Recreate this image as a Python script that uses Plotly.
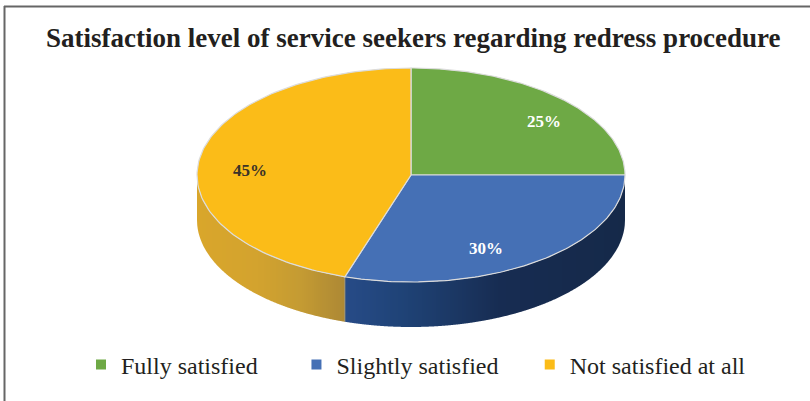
import numpy as np
import plotly.graph_objects as go

# Survey results
categories = ["Fully satisfied", "Slightly satisfied", "Not satisfied at all"]
shares = [25, 30, 45]
share_labels = ["25%", "30%", "45%"]
title_text = "Satisfaction level of service seekers regarding redress procedure"

# Styling
top_colors = ["#6EA945", "#4570B5", "#FBBC18"]
label_colors = ["#FFFFFF", "#FFFFFF", "#3A3328"]
wall_ramps = [
    [(0.0, "#4F7A33"), (1.0, "#4F7A33")],
    [(0.0, "#274B87"), (0.2, "#1F4377"), (0.4, "#1B3763"), (0.55, "#172C52"), (1.0, "#152949")],
    [(0.0, "#D9A62B"), (0.4, "#D3A32E"), (0.7, "#C49B33"), (1.0, "#AD8834")],
]
FONT = "Liberation Serif"

# Tilted disc geometry, in axis units that map one-to-one onto the page
CX, CY, RX, RY, DEPTH = 411, 175, 214, 107, 45
label_spots = [(544, 121), (486, 248), (250, 170)]


def rim(theta_deg):
    t = np.radians(theta_deg)
    return CX + RX * np.sin(t), CY - RY * np.cos(t)


def front_angle(x):
    # Clockwise angle of the point on the front half of the rim at horizontal position x
    return 180 - np.degrees(np.arcsin(np.clip((x - CX) / RX, -1, 1)))


def hex_rgb(c):
    return np.array([int(c[i:i + 2], 16) for i in (1, 3, 5)], float)


def ramp_color(ramp, f):
    pos = [p for p, _ in ramp]
    rgb = np.array([hex_rgb(c) for _, c in ramp])
    vals = [np.interp(f, pos, rgb[:, k]) for k in range(3)]
    return "rgb({:.0f},{:.0f},{:.0f})".format(*vals)


fig = go.Figure()
edges = np.cumsum([0] + shares) / sum(shares) * 360

# Front wall: vertical bands on whole-pixel boundaries, shaded by horizontal position
for i in range(len(shares)):
    a0, a1 = max(edges[i], 90), min(edges[i + 1], 270)
    if a1 <= a0:
        continue
    x_lo, x_hi = sorted([rim(a0)[0], rim(a1)[0]])
    inner = np.arange(np.ceil(x_lo) + 1, np.floor(x_hi), 2)
    cuts = np.r_[x_lo, inner, x_hi]
    for c0, c1 in zip(cuts[:-1], cuts[1:]):
        xs, ys = rim(front_angle(np.linspace(c0, c1, 5)))
        col = ramp_color(wall_ramps[i], (0.5 * (c0 + c1) - x_lo) / (x_hi - x_lo))
        fig.add_trace(go.Scatter(
            x=np.r_[xs, xs[::-1], xs[0]],
            y=np.r_[ys, ys[::-1] + DEPTH, ys[0]],
            mode="none", fill="toself", fillcolor=col,
            hoverinfo="skip", showlegend=False,
        ))

# Seams where the wall changes colour
for a in edges[:-1]:
    if 90 < a < 270:
        sx, sy = rim(a)
        fig.add_trace(go.Scatter(
            x=[sx, sx], y=[sy, sy + DEPTH], mode="lines",
            line=dict(color="#9A9078", width=1),
            hoverinfo="skip", showlegend=False,
        ))

# Top face of the disc
for i, cat in enumerate(categories):
    arc = np.linspace(edges[i], edges[i + 1], 120)
    xs, ys = rim(arc)
    fig.add_trace(go.Scatter(
        x=np.r_[CX, xs, CX], y=np.r_[CY, ys, CY],
        mode="lines", fill="toself", fillcolor=top_colors[i],
        line=dict(color="#DCDCDC", width=1.2),
        name=cat, hoverinfo="skip", showlegend=False,
    ))

# One legend per entry so that each can sit at its own spot
legend_ids = ["legend", "legend2", "legend3"]
for cat, col, lid in zip(categories, top_colors, legend_ids):
    fig.add_trace(go.Scatter(
        x=[None], y=[None], mode="markers", name=cat, legend=lid,
        marker=dict(symbol="square", size=10, color=col),
    ))

legend_style = dict(
    bgcolor="rgba(0,0,0,0)", xanchor="left", yanchor="middle", y=0.09,
    font=dict(family=FONT, size=24, color="#231F20"), itemclick=False,
    itemdoubleclick=False,
)

annotations = [
    dict(text=f"<b>{t}</b>", x=x, y=y, xref="x", yref="y", showarrow=False,
         font=dict(family=FONT, size=17, color=c))
    for t, (x, y), c in zip(share_labels, label_spots, label_colors)
]
annotations.append(dict(
    text=f"<b>{title_text}</b>", x=413, y=38, xref="x", yref="y", showarrow=False,
    font=dict(family=FONT, size=27, color="#231F20"),
))

fig.update_layout(
    width=810, height=401, margin=dict(l=0, r=0, t=0, b=0),
    paper_bgcolor="white", plot_bgcolor="white",
    xaxis=dict(range=[0, 810], visible=False, fixedrange=True),
    yaxis=dict(range=[401, 0], visible=False, fixedrange=True),
    annotations=annotations,
    legend={**legend_style, "x": 0.1},
    legend2={**legend_style, "x": 0.366},
    legend3={**legend_style, "x": 0.654},
    showlegend=True,
    shapes=[
        dict(type="line", x0=4.5, x1=4.5, y0=6, y1=401, line=dict(color="#666666", width=2)),
        dict(type="line", x0=4, x1=810, y0=6.5, y1=6.5, line=dict(color="#666666", width=2)),
    ],
)

fig.write_html("out.html")
